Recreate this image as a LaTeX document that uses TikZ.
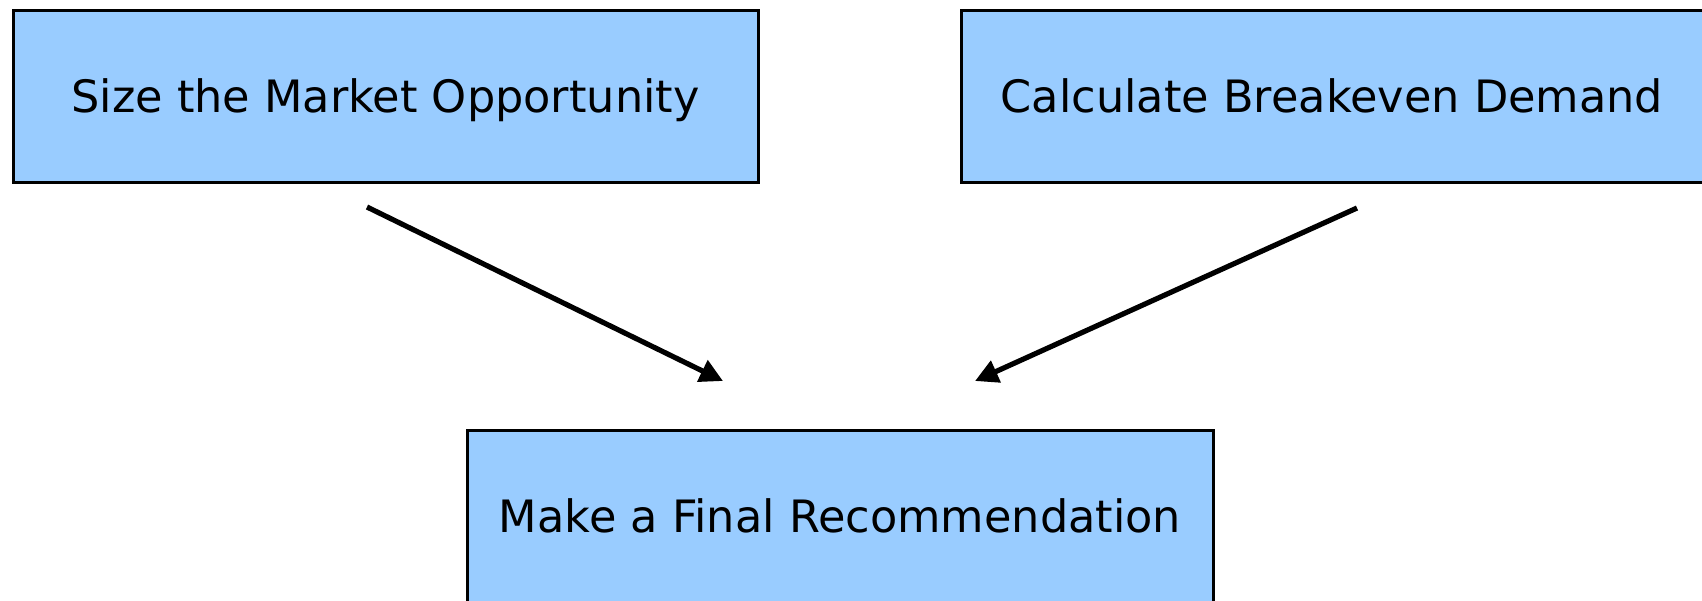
\documentclass[tikz,border=0pt]{standalone}
\usepackage{fontspec}
\setmainfont{DejaVu Sans}
\usetikzlibrary{arrows.meta}
\definecolor{boxblue}{HTML}{99CCFF}
\tikzset{
  stepbox/.style={draw=black, line width=1.5pt, fill=boxblue, rectangle,
    minimum height=86pt, inner sep=0pt, text height=16.3pt, text depth=0pt,
    font=\fontsize{22.3}{27}\selectfont},
  flow/.style={line width=2.6pt, -{Triangle[length=11.5pt,width=11.5pt]}}
}
\begin{document}
\begin{tikzpicture}[x=0.5pt,y=-0.5pt]
\useasboundingbox (0,0) rectangle (1702,600);
\node[stepbox, minimum width=372.5pt] (size) at (385.5,96) {Size the Market Opportunity};
\node[stepbox, minimum width=371pt] (calc) at (1332,96) {Calculate Breakeven Demand};
\node[stepbox, minimum width=373pt] (final) at (840,516) {Make a Final Recommendation};
\coordinate (s1) at (367,207);
\coordinate (e1) at (723,381);
\coordinate (s2) at (1357,208);
\coordinate (e2) at (975,381);
\draw[flow] (s1) -- (e1);
\draw[flow] (s2) -- (e2);
\end{tikzpicture}
\end{document}
